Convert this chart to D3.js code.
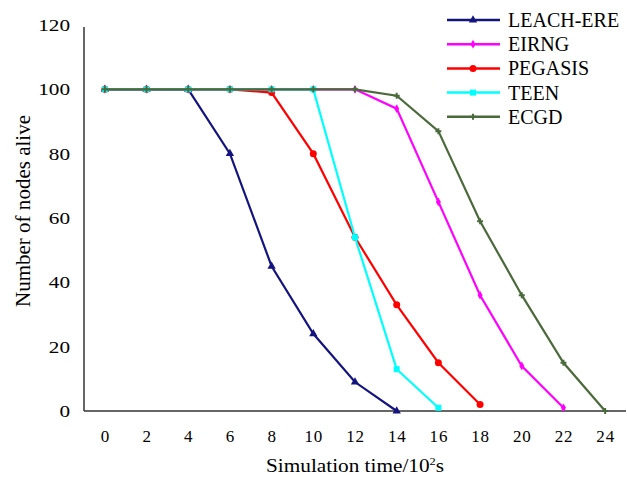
<!DOCTYPE html>
<html><head><meta charset="utf-8">
<script src="https://cdn.jsdelivr.net/npm/d3@7"></script>
<style>
html,body{margin:0;padding:0;background:#fff;}
svg{display:block;}
text{font-family:"Liberation Serif","Times New Roman",serif;fill:#000;}
</style></head>
<body>
<svg id="chart" width="627" height="477"></svg>
<script>
const xTicks = [0,2,4,6,8,10,12,14,16,18,20,22,24];
const yTicks = [0,20,40,60,80,100,120];
const seriesNames = ["LEACH-ERE","EIRNG","PEGASIS","TEEN","ECGD"];
const leachX = [0,2,4,6,8,10,12,14];
const leachY = [100,100,100,80,45,24,9,0];
const eirngX = [0,2,4,6,8,10,12,14,16,18,20,22];
const eirngY = [100,100,100,100,100,100,100,94,65,36,14,1];
const pegasisX = [0,2,4,6,8,10,12,14,16,18];
const pegasisY = [100,100,100,100,99,80,54,33,15,2];
const teenX = [0,2,4,6,8,10,12,14,16];
const teenY = [100,100,100,100,100,100,54,13,1];
const ecgdX = [0,2,4,6,8,10,12,14,16,18,20,22,24];
const ecgdY = [100,100,100,100,100,100,100,98,87,59,36,15,0];
const colors = ["#14147e","#ff00ff","#ff0000","#00ffff","#4b6a3b"];
const markers = ["triangle","diamond","circle","square","cross"];

const series = [
  {name:seriesNames[0], xs:leachX, ys:leachY},
  {name:seriesNames[1], xs:eirngX, ys:eirngY},
  {name:seriesNames[2], xs:pegasisX, ys:pegasisY},
  {name:seriesNames[3], xs:teenX, ys:teenY},
  {name:seriesNames[4], xs:ecgdX, ys:ecgdY}
].map((s,i)=>({...s, color:colors[i], marker:markers[i], pts:s.xs.map((x,j)=>[x,s.ys[j]])}));

const svg = d3.select("#chart");
const x = d3.scaleLinear().domain([-1,25]).range([84,626]);
const y = d3.scaleLinear().domain([0,120]).range([411,25]);

// axes lines
svg.append("line").attr("x1",x(-1)).attr("x2",x(-1)).attr("y1",y(120)+2).attr("y2",y(0))
  .attr("stroke","#333").attr("stroke-width",1.5);
svg.append("line").attr("x1",x(-1)).attr("x2",x(25)).attr("y1",y(0)).attr("y2",y(0))
  .attr("stroke","#333").attr("stroke-width",1.5);

// tick labels via axis generators
const yAxis = d3.axisLeft(y).tickValues(yTicks).tickSize(0).tickPadding(14);
const gy = svg.append("g").attr("transform",`translate(${x(-1)},0)`).call(yAxis);
gy.select(".domain").remove();
gy.selectAll("text").attr("font-size",17).attr("font-family","Liberation Serif").attr("fill","#000")
  .attr("transform","scale(1.25,1)").attr("x",-14/1.25);
const xAxis = d3.axisBottom(x).tickValues(xTicks).tickSize(0).tickPadding(19);
const gx = svg.append("g").attr("transform",`translate(0,${y(0)})`).call(xAxis);
gx.select(".domain").remove();
gx.selectAll("text").attr("font-size",17).attr("font-family","Liberation Serif").attr("fill","#000")
  .attr("letter-spacing","0.8px");

// axis titles
svg.append("text").attr("x",355).attr("y",472).attr("text-anchor","middle").attr("font-size",19)
  .attr("textLength",178).attr("lengthAdjust","spacingAndGlyphs")
  .html('Simulation time/10<tspan font-size="11" dy="-7">2</tspan><tspan dy="7">s</tspan>');
svg.append("text").attr("transform","translate(30,211) rotate(-90)").attr("text-anchor","middle")
  .attr("font-size",20).attr("textLength",192).attr("lengthAdjust","spacingAndGlyphs")
  .text("Number of nodes alive");

// markers
function drawMarker(g, type, cx, cy, color){
  if(type==="triangle"){
    g.append("path").attr("d",d3.symbol(d3.symbolTriangle,30)()).attr("transform",`translate(${cx},${cy})`).attr("fill",color);
  } else if(type==="diamond"){
    g.append("path").attr("d",d3.symbol(d3.symbolDiamond,22)()).attr("transform",`translate(${cx},${cy})`).attr("fill",color);
  } else if(type==="circle"){
    g.append("circle").attr("cx",cx).attr("cy",cy).attr("r",3.5).attr("fill",color);
  } else if(type==="square"){
    g.append("rect").attr("x",cx-3).attr("y",cy-3).attr("width",6).attr("height",6).attr("fill",color);
  } else {
    g.append("path").attr("d",d3.symbol(d3.symbolCross,20)()).attr("transform",`translate(${cx},${cy})`).attr("fill",color);
  }
}

const line = d3.line().x(d=>x(d[0])).y(d=>y(d[1]));
series.forEach(s=>{
  const g = svg.append("g");
  g.append("path").attr("d",line(s.pts)).attr("fill","none").attr("stroke",s.color).attr("stroke-width",2.2);
  s.pts.forEach(p=>drawMarker(g,s.marker,x(p[0]),y(p[1]),s.color));
});

// legend
const leg = svg.append("g");
series.forEach((s,i)=>{
  const ly = 20 + i*24.2;
  leg.append("line").attr("x1",447).attr("x2",500).attr("y1",ly).attr("y2",ly).attr("stroke",s.color).attr("stroke-width",2.5);
  drawMarker(leg,s.marker,473,ly,s.color);
  const t = leg.append("text").attr("x",508).attr("y",ly+7).attr("font-size",20).text(s.name);
});
</script>
</body></html>
